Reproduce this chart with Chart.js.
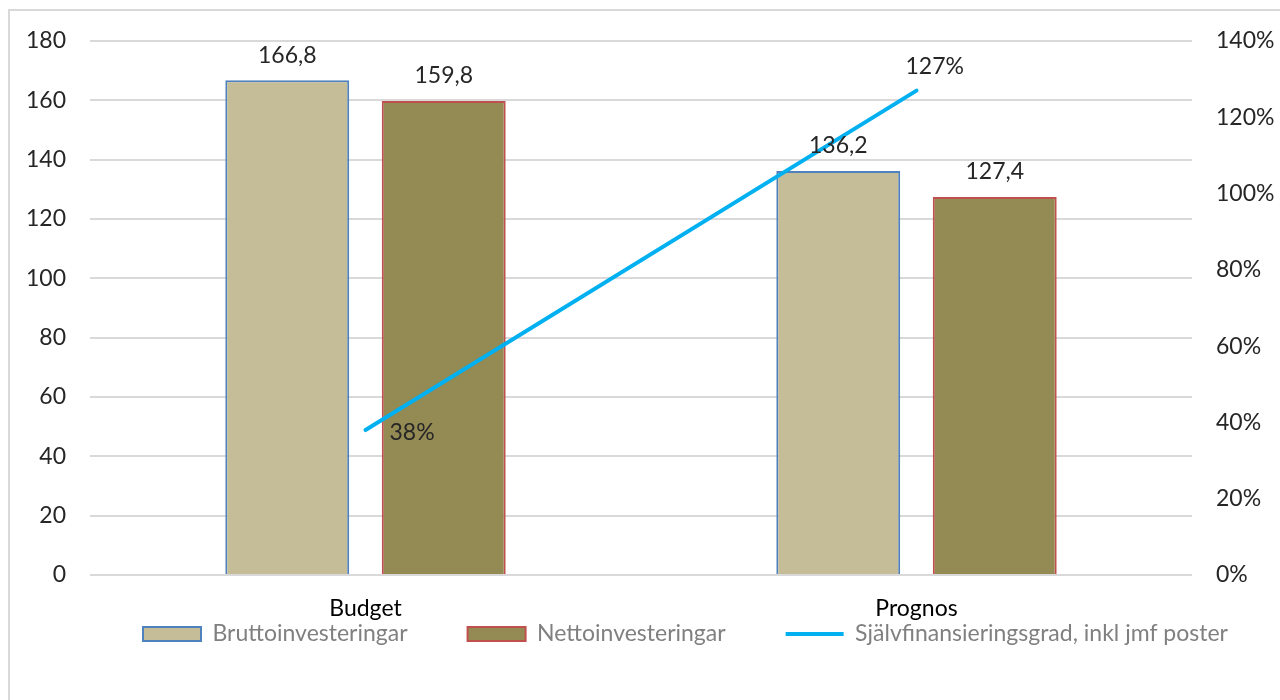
<!DOCTYPE html>
<html>
<head>
<meta charset="utf-8">
<script src="https://cdn.jsdelivr.net/npm/chart.js@4.4.0/dist/chart.umd.min.js"></script>
<style>
  html, body { margin: 0; padding: 0; background: #fff; }
  #frame { position: absolute; left: 8px; top: 9px; width: 1300px; height: 720px; border: 2px solid #d9d9d9; }
  #wrap { position: absolute; left: 0; top: 0; width: 1280px; height: 700px; }
</style>
</head>
<body>
<div id="frame"></div>
<div id="wrap"><canvas id="chart"></canvas></div>
<script>
// data
const categories = ['Budget', 'Prognos'];
const brutto = [166.8, 136.2];
const netto = [159.8, 127.4];
const sjalvfinansiering = [0.38, 1.27];
const seriesNames = ['Bruttoinvesteringar', 'Nettoinvesteringar', 'Självfinansieringsgrad, inkl jmf poster'];
const leftMax = 180, leftStep = 20;
const rightMax = 1.4, rightStep = 0.2;

const FONT = 'Lato';
const FS = 23;

// value labels, bars above, line points with own offsets
var lineLabelOffsets = [[24, 3], [-11, -24]];
var valueLabels = {
    id: 'valueLabels',
    afterDatasetsDraw: function (chart) {
        var ctx = chart.ctx;
        ctx.save();
        ctx.font = FS + 'px ' + FONT;
        ctx.fillStyle = '#262626';
        ctx.textBaseline = 'middle';
        chart.data.datasets.forEach(function (ds, i) {
            var meta = chart.getDatasetMeta(i);
            meta.data.forEach(function (el, j) {
                var v = ds.data[j];
                if (ds.type === 'line') {
                    ctx.textAlign = 'left';
                    ctx.fillText(Math.round(v * 100) + '%', el.x + lineLabelOffsets[j][0], el.y + lineLabelOffsets[j][1]);
                } else {
                    ctx.textAlign = 'center';
                    ctx.fillText(v.toFixed(1).replace('.', ','), el.x, el.y - 25);
                }
            });
        });
        ctx.restore();
    }
};

// legend sits close under the category labels, like the excel original
var legendPlace = {
    id: 'legendPlace',
    afterLayout: function (chart) {
        var lg = chart.legend;
        if (!lg) return;
        var pad = lg.options.labels.padding;
        var h = lg.height;
        lg.top = 634 - FS / 2 - pad;
        lg.bottom = lg.top + h;
        var curX = (lg.left + pad + lg.right - lg.lineWidths[0]) / 2;
        var dx = 143 - curX;
        lg.left += dx;
        lg.right += dx;
    }
};

var chart = new Chart(document.getElementById('chart'), {
    type: 'bar',
    data: {
        labels: categories,
        datasets: [{
            type: 'bar',
            label: seriesNames[0],
            data: brutto,
            backgroundColor: '#c4bd97',
            borderColor: '#4f81bd',
            borderWidth: 2,
            order: 2
        }, {
            type: 'bar',
            label: seriesNames[1],
            data: netto,
            backgroundColor: '#948a54',
            borderColor: '#c0504d',
            borderWidth: 2,
            order: 2
        }, {
            type: 'line',
            label: seriesNames[2],
            data: sjalvfinansiering,
            yAxisID: 'y1',
            borderColor: '#00b0f0',
            backgroundColor: '#00b0f0',
            borderWidth: 4,
            borderCapStyle: 'round',
            pointRadius: 0,
            order: 1
        }]
    },
    options: {
        responsive: true,
        maintainAspectRatio: false,
        animation: false,
        categoryPercentage: 0.568,
        barPercentage: 0.792,
        layout: { padding: { top: 41, left: 0, right: 0, bottom: -18 } },
        scales: {
            x: {
                grid: { display: false },
                border: { display: false },
                ticks: { color: '#000', font: { family: FONT, size: FS }, padding: 12 },
                afterFit: function (s) { s.height = 50; }
            },
            y: {
                min: 0, max: leftMax,
                ticks: { stepSize: leftStep, color: '#262626', font: { family: FONT, size: FS }, padding: 24 },
                grid: { color: '#d9d9d9', lineWidth: 2, drawTicks: false },
                border: { display: false },
                afterFit: function (s) { s.width = 90; }
            },
            y1: {
                position: 'right',
                min: 0, max: rightMax,
                ticks: {
                    stepSize: rightStep, color: '#262626', font: { family: FONT, size: FS }, padding: 24,
                    callback: function (v) { return Math.round(v * 100) + '%'; }
                },
                grid: { display: false, drawTicks: false },
                border: { display: false },
                afterFit: function (s) { s.width = 88; }
            }
        },
        plugins: {
            tooltip: { enabled: false },
            legend: {
                position: 'bottom',
                labels: {
                    usePointStyle: true,
                    pointStyleWidth: 58,
                    boxHeight: 14,
                    padding: 60,
                    color: '#808080',
                    font: { family: FONT, size: FS },
                    sort: function (a, b) { return a.datasetIndex - b.datasetIndex; },
                    generateLabels: function (chart) {
                        var items = Chart.defaults.plugins.legend.labels.generateLabels(chart);
                        items.forEach(function (it) {
                            it.pointStyle = chart.data.datasets[it.datasetIndex].type === 'line' ? 'line' : 'rect';
                        });
                        return items;
                    }
                }
            }
        }
    },
    plugins: [valueLabels, legendPlace]
});
</script>
</body>
</html>
